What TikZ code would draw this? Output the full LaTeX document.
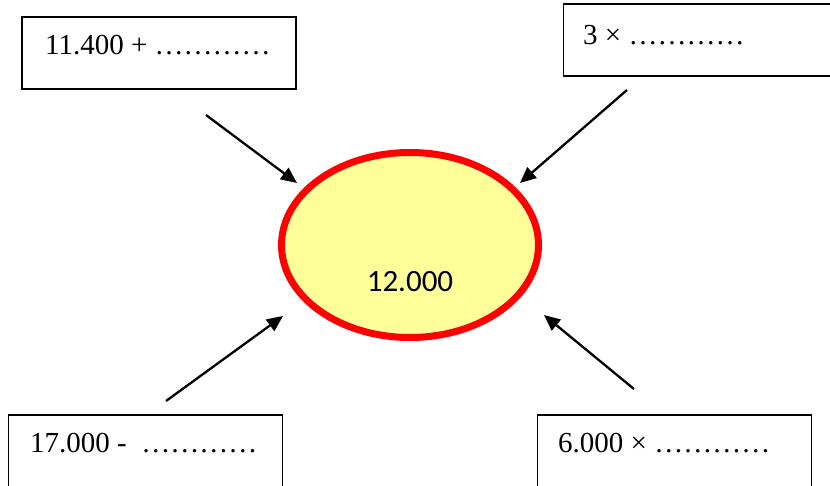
\documentclass[tikz,border=0pt]{standalone}
\usepackage{fontspec}
\setmainfont{Liberation Serif}
\newfontfamily\calib{Carlito}
\usetikzlibrary{arrows.meta,shapes.geometric}
\begin{document}
\begin{tikzpicture}[x=1pt,y=-1pt,
  ansbox/.style={draw=black, line width=1.3pt, minimum width=274pt, minimum height=72pt, inner sep=0pt},
  lbl/.style={anchor=base west, inner sep=0pt, font=\fontsize{29}{31}\selectfont},
  arr/.style={line width=2.3pt, -{Triangle[length=16pt,width=14pt]}},
  target/.style={ellipse, draw=red, fill={rgb,255:red,255;green,255;blue,153}, line width=7pt, minimum width=257pt, minimum height=185pt, inner sep=0pt}]
\useasboundingbox (0,0) rectangle (830,486);
\clip (0,0) rectangle (830,486);
% boxes
\node[ansbox] (b1) at (159,53) {};
\node[ansbox] (b2) at (700.5,40) {};
\node[ansbox] (b3) at (145.5,451) {};
\node[ansbox] (b4) at (674.5,451) {};
% texts
\node[lbl] (t1) at (45,55) {11.400 + …………};
\node[lbl] (t2) at (583,45) {3 × …………};
\node[lbl] (t3) at (30,452) {17.000 -\ \ …………};
\node[lbl] (t4) at (558,452) {6.000 × …………};
% centre
\node[target] (c) at (410,245) {};
\node[anchor=base, inner sep=0pt, font=\calib\fontsize{31}{33}\selectfont] (ct) at (410,292) {12.000};
% arrows
\coordinate (s1) at (206,115); \coordinate (e1) at (297,183);
\coordinate (s2) at (627,90);  \coordinate (e2) at (520,183);
\coordinate (s3) at (166,401); \coordinate (e3) at (283,316);
\coordinate (s4) at (634,389); \coordinate (e4) at (544,315);
\draw[arr] (s1) -- (e1);
\draw[arr] (s2) -- (e2);
\draw[arr] (s3) -- (e3);
\draw[arr] (s4) -- (e4);
\end{tikzpicture}
\end{document}
